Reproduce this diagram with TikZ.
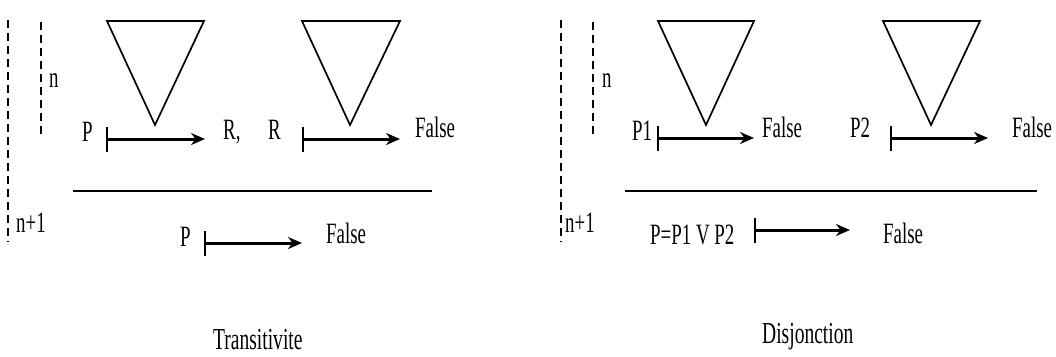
\documentclass[tikz,border=0pt]{standalone}
\usepackage{fontspec}
\setmainfont{Liberation Serif}[FakeStretch=0.64]
\usetikzlibrary{arrows.meta}
\tikzset{
  lbl/.style={anchor=base west, inner sep=0pt, font=\fontsize{29.5}{32}\selectfont},
  captxt/.style={anchor=base west, inner sep=0pt, font=\fontsize{30.5}{32}\selectfont},
  maps/.style={line width=3pt, {Bar[width=25pt,line width=2pt]}-{Stealth[length=14pt,width=12pt]}},
  tri/.style={draw, line width=1.7pt, line join=miter},
  hrule/.style={line width=1.8pt},
  lev/.style={line width=1.4pt, dash pattern=on 8pt off 5pt}
}
\begin{document}
\begin{tikzpicture}[x=1pt,y=-1pt]
\useasboundingbox (0,0) rectangle (1056,356);
% ---------- left panel ----------
\draw[lev] (8,20) -- (8,242);
\draw[lev] (41,22) -- (41,137);
\node[lbl] (n1) at (49,87) {n};
\node[lbl] (n1p) at (16,232) {n+1};
\draw[tri] (107,21) -- (204,21) -- (155,125) -- cycle;
\draw[tri] (302,21) -- (400,21) -- (350,125) -- cycle;
\node[lbl] (P) at (82,141) {P};
\coordinate (a1s) at (106,139); \coordinate (a1e) at (205,139);
\draw[maps] (a1s) -- (a1e);
\node[lbl] (Rc) at (223,139) {R,};
\node[lbl] (R) at (268,139) {R};
\coordinate (a2s) at (302,139); \coordinate (a2e) at (400,139);
\draw[maps] (a2s) -- (a2e);
\node[lbl] (F1) at (415,137) {False};
\coordinate (h1a) at (73,191); \coordinate (h1b) at (432,191);
\draw[hrule] (h1a) -- (h1b);
\node[lbl] (Pb) at (180,246) {P};
\coordinate (a3s) at (204,243); \coordinate (a3e) at (302,243);
\draw[maps] (a3s) -- (a3e);
\node[lbl] (F2) at (326,243) {False};
\node[captxt] (T) at (213,349) {Transitivite};
% ---------- right panel ----------
\draw[lev] (561,20) -- (561,242);
\draw[lev] (593,22) -- (593,137);
\node[lbl] (n2) at (602,87) {n};
\node[lbl] (n2p) at (565,232) {n+1};
\draw[tri] (658,21) -- (754,21) -- (706,125) -- cycle;
\draw[tri] (883,21) -- (980,21) -- (931,125) -- cycle;
\node[lbl] (P1) at (632,140) {P1};
\coordinate (b1s) at (657,138); \coordinate (b1e) at (754,138);
\draw[maps] (b1s) -- (b1e);
\node[lbl] (F3) at (762,137) {False};
\node[lbl] (P2) at (850,137) {P2};
\coordinate (b2s) at (890,138); \coordinate (b2e) at (988,138);
\draw[maps] (b2s) -- (b2e);
\node[lbl] (F4) at (1012,137) {False};
\coordinate (h2a) at (625,191); \coordinate (h2b) at (1037,191);
\draw[hrule] (h2a) -- (h2b);
\node[lbl] (PP) at (650,244) {P=P1 V P2};
\coordinate (b3s) at (754,230); \coordinate (b3e) at (850,230);
\draw[maps] (b3s) -- (b3e);
\node[lbl] (F5) at (883,243) {False};
\node[captxt] (D) at (762,343) {Disjonction};
\end{tikzpicture}
\end{document}
